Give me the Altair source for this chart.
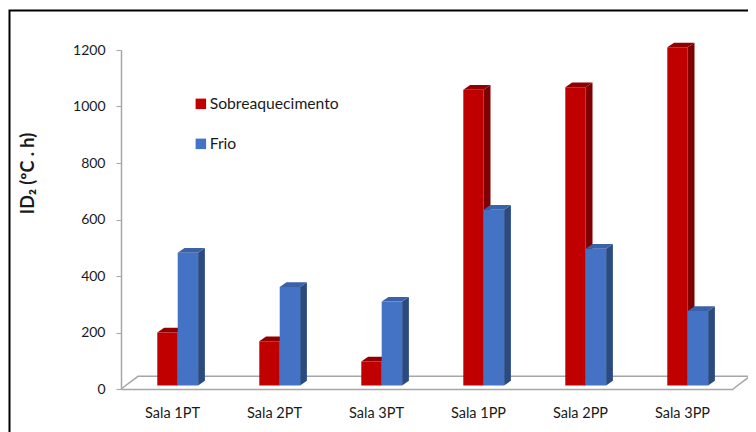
import json
import altair as alt
import pandas as pd

categories = ["Sala 1PT", "Sala 2PT", "Sala 3PT", "Sala 1PP", "Sala 2PP", "Sala 3PP"]
sobreaquecimento = [188, 157, 85, 1047, 1056, 1197]
frio = [470, 349, 297, 622, 484, 264]
series_names = ["Sobreaquecimento", "Frio"]
front_colors = ["#C00000", "#4472C4"]
side_colors = ["#7F0000", "#2B4A80"]
top_colors = ["#900000", "#3A62A8"]
ink = "#1A1A1A"
grey = "#A6A6A6"
font = "Lato"

PW, PH = 612, 339            # plot area in pixels
UX = PW / 6                  # px per category
UY = PH / 1200               # px per unit
base = 3.5 / UY              # bars stand this far in front of the floor edge
dx = 6.8 / UX                # depth of the 3-D effect
dy = 4.7 / UY
bw = 20.4 / UX
start = -14.7 / UX


def bar_rows():
    fronts, sides, tops = [], [], []
    for s, (name, vals) in enumerate(zip(series_names, [sobreaquecimento, frio])):
        for i, v in enumerate(vals):
            x0 = i + 0.5 + start + s * bw
            x1 = x0 + bw
            top = v + base
            fronts.append(dict(x=x0, x2=x1, y=base, y2=top, s=name))
            sid = f"{s}-{i}"
            for px, py, py2 in [(x1, top, base), (x1 + dx, top + dy, base + dy)]:
                sides.append(dict(x=px, y=py, y2=py2, id=sid, s=s))
            for px, py, py2 in [(x0, top, top), (x0 + dx, top + dy, top), (x1, top + dy, top),
                                (x1 + dx, top + dy, top + dy)]:
                tops.append(dict(x=px, y=py, y2=py2, id=sid, s=s))
    return pd.DataFrame(fronts), pd.DataFrame(sides), pd.DataFrame(tops)


fronts, sides, tops = bar_rows()

x_scale = alt.Scale(domain=[0, 6], range=[0, PW], nice=False, zero=False)
y_scale = alt.Scale(domain=[0, 1200], range=[PH, 0], nice=False, zero=False)
names_js = json.dumps(categories)

x_enc = alt.X("x:Q", scale=x_scale, axis=alt.Axis(
    title=None, values=[i + 0.5 for i in range(6)], labelExpr=f"{names_js}[floor(datum.value)]",
    ticks=False, grid=False, domainColor=grey, domainWidth=1.5, labelFont=font, labelFontSize=14.5,
    labelColor=ink, labelPadding=24, labelBaseline="middle"))
y_enc = alt.Y("y:Q", scale=y_scale, axis=alt.Axis(
    title="ID₂ (ºC . h)", values=list(range(0, 1201, 200)), format="d", grid=False, domainColor=grey,
    domainWidth=1.5, tickColor=grey, tickWidth=1, tickSize=5, labelFont=font, labelFontSize=14, labelColor=ink,
    labelPadding=11, titleFont=font, titleFontSize=18, titleFontWeight="bold", titleColor=ink,
    titleX=-84, titleY=123))
x_plain = alt.X("x:Q", scale=x_scale)
y_plain = alt.Y("y:Q", scale=y_scale)

# outer frame, running off the right and bottom edges of the picture
frame = alt.Chart(pd.DataFrame([dict(x=-111.5 / UX, x2=700 / UX, y=(389 - 10.5) / UY, y2=(389 - 500) / UY)])).mark_rect(
    fillOpacity=0, stroke="#000000", strokeWidth=2, clip=False).encode(
    x=x_enc, x2="x2:Q", y=y_enc, y2="y2:Q")

# floor outline
floor_pts = [(0, 0, 0), (17 / UX, 12.7 / UY, 1), (629 / UX, 12.7 / UY, 2), (PW / UX, 0, 3)]
floor = alt.Chart(pd.DataFrame(floor_pts, columns=["x", "y", "o"])).mark_line(
    color=grey, strokeWidth=1.5, clip=False).encode(x=x_plain, y=y_plain, order="o:Q")


def face_layer(table, s, color):
    return alt.Chart(table[table.s == s]).mark_area(
        clip=False, interpolate="linear", color=color, orient="vertical").encode(
        x=x_plain, y=y_plain, y2="y2:Q", detail="id:N")


front = alt.Chart(fronts).mark_rect(clip=False).encode(
    x=x_plain, x2="x2:Q", y=y_plain, y2="y2:Q",
    color=alt.Color("s:N", scale=alt.Scale(domain=series_names, range=front_colors),
                    legend=alt.Legend(title=None, orient="none", legendX=72, legendY=46, symbolType="square",
                                      symbolSize=110, symbolStrokeWidth=0, labelFont=font, labelFontSize=15.7,
                                      labelColor=ink, rowPadding=23, labelOffset=1)))

chart = alt.layer(frame, floor,
                  face_layer(sides, 0, side_colors[0]), face_layer(tops, 0, top_colors[0]),
                  face_layer(sides, 1, side_colors[1]), face_layer(tops, 1, top_colors[1]),
                  front).properties(
    width=PW, height=PH, padding=dict(left=113, top=42, right=15, bottom=43),
    autosize=alt.AutoSizeParams(type="none"), background="#FFFFFF",
).configure_view(strokeWidth=0)

chart.save("out.html", embed_options={"renderer": "svg", "actions": False})
